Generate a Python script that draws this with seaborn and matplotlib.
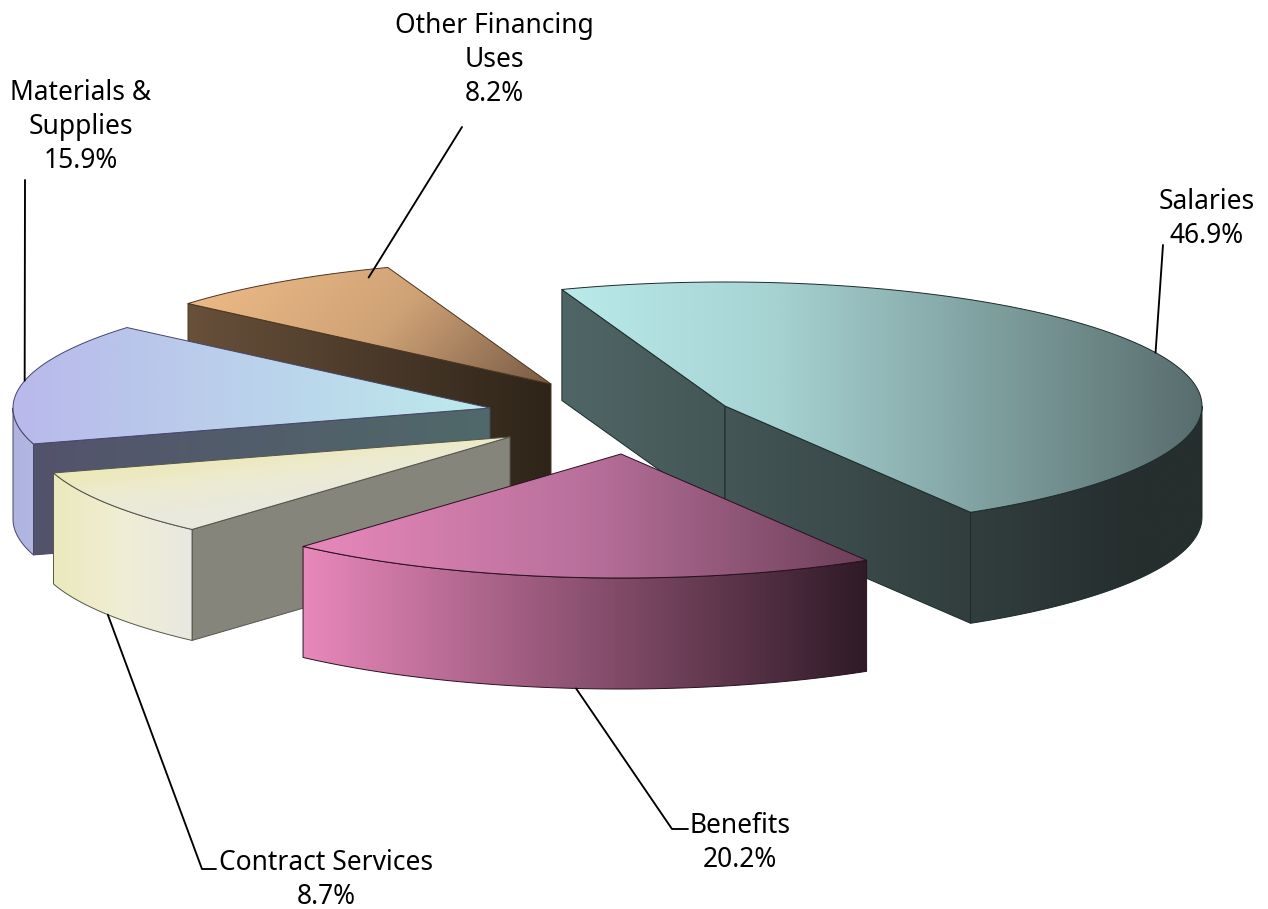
import numpy as np
import matplotlib
matplotlib.use("Agg")
import matplotlib.pyplot as plt
from matplotlib.patches import PathPatch
from matplotlib.path import Path
import seaborn as sns

# Budget shares, in percent
categories = ["Salaries", "Benefits", "Contract Services", "Materials & Supplies", "Other Financing Uses"]
shares = [46.9, 20.2, 8.7, 15.9, 8.2]
label_texts = ["Salaries", "Benefits", "Contract Services", "Materials &\nSupplies", "Other Financing\nUses"]

# Pie geometry in canvas pixels
RX, RY, DEPTH = 477.0, 124.0, 111.0
START_ANGLE = 110.0
apexes = [(725, 406), (621, 454), (510, 437), (490, 408), (551, 384)]
paint_order = [4, 3, 2, 0, 1]

# Colour ramps for the top surface, outer wall and cut faces of each slice
top_colors = [("#baeaea", "#a6d2d2", "#7f9f9f", "#586c6c"), ("#e888bb", "#b8709b", "#6c3f58"),
              ("#ece9bb", "#ecebd2", "#e9e9dd"), ("#b9b9eb", "#bcebeb"), ("#ebb985", "#cfa276", "#775a44")]
wall_colors = [("#506666", "#262e2e"), ("#e888bb", "#2f1a26"), ("#ebe9bd", "#f0eed4", "#e8e8e2"),
               ("#b0b2e0", "#b4c0e4"), ("#000000", "#000000")]
cut_colors = [("#506666", "#262e2e"), ("#000000", "#000000"), ("#85857c", "#85857c"),
              ("#53536c", "#506969"), ("#68503a", "#2e2419")]
edge_colors = ["#1c2a2a", "#2a0f20", "#55554a", "#45456a", "#4a3420"]

# Leader lines: waypoints after the rim anchor, and label positions
leader_paths = [[(1163, 245)], [(672, 829), (688, 829)], [(202, 869), (216, 869)], [(25, 180)], [(462, 127)]]
anchor_overrides = {3: (167.3, 1.0), 4: (114.0, 0.94)}
label_centers = [(1207, 219), (740, 843), (326, 880), (81, 127), (494, 60)]

sns.set_theme(style="white")
plt.rcParams["font.family"] = ["Noto Sans", "DejaVu Sans"]

fig = plt.figure(figsize=(12.68, 9.09), dpi=100)
ax = fig.add_axes([0, 0, 1, 1])


def rim(apex, angle_deg, lift=0.0, radius=1.0):
    t = np.radians(angle_deg)
    return (apex[0] + radius * RX * np.cos(t), apex[1] - radius * RY * np.sin(t) + lift)


def paint(verts, stops, x0, x1, direction=(1.0, 0.0), z=1, y0=None, lw=0.7, edge="#333333"):
    """Fill a polygon with a linear blend of colours along a direction."""
    verts = np.asarray(verts)
    path = Path(np.vstack([verts, verts[0]]), closed=True)
    patch = PathPatch(path, facecolor="none", edgecolor=edge, lw=lw, zorder=z + 0.1, joinstyle="round")
    ax.add_patch(patch)
    lut = np.array(sns.blend_palette(list(stops), 256))
    xmin, ymin = verts.min(axis=0)
    xmax, ymax = verts.max(axis=0)
    X, Y = np.meshgrid(np.linspace(xmin, xmax, 400), np.linspace(ymin, ymax, 300))
    dx, dy = direction
    base_y = ymin if y0 is None else y0
    t = ((X - x0) * dx + (Y - base_y) * dy) / (x1 - x0)
    idx = (np.clip(t, 0, 1) * 255).astype(int)
    img = ax.imshow(lut[idx], extent=(xmin, xmax, ymax, ymin), origin="upper",
                    aspect="auto", zorder=z, interpolation="bilinear")
    img.set_clip_path(patch)


fractions = np.array(shares) / np.sum(shares)
ends = START_ANGLE - np.cumsum(fractions) * 360.0
starts = np.concatenate([[START_ANGLE], ends[:-1]])
mids = (starts + ends) / 2.0

# Every slice is painted back to front: cut faces, outer wall, then the top
z = 2
for i in paint_order:
    apex, a0, a1 = apexes[i], starts[i], ends[i]
    arc_angles = np.linspace(a0, a1, 160)
    arc = np.array([rim(apex, a) for a in arc_angles])
    x_lo, x_hi = arc[:, 0].min(), max(arc[:, 0].max(), apex[0])
    drop = np.array([0.0, DEPTH])

    cut_x = {0: (562, 1130), 2: (0, 1), 3: (34, 490), 4: (189, 551)}.get(i)
    for angle, normal in ((a0, a0 + 90.0), (a1, a1 - 90.0)):
        if np.sin(np.radians(normal)) < 0:
            p = np.array(rim(apex, angle))
            face = [apex, p, p + drop, np.array(apex) + drop]
            paint(face, cut_colors[i], cut_x[0], cut_x[1], z=z, edge=edge_colors[i])
            z += 1

    front = arc_angles[np.sin(np.radians(arc_angles)) < 0]
    if i == 3:
        front = np.linspace(-180.0, a0, 40)
    if i == 0:
        front = np.linspace(0.0, a1, 60)
    if len(front) > 1 and i != 4:
        upper = np.array([rim(apex, a) for a in front])
        wall = np.vstack([upper, (upper + drop)[::-1]])
        wall_x = {0: (562, 1130), 2: (53, 192), 3: (13, 60)}.get(i, (x_lo, x_hi))
        paint(wall, wall_colors[i], wall_x[0], wall_x[1], z=z, edge=edge_colors[i])
        z += 1

    top = np.vstack([apex, arc])
    if i == 4:
        paint(top, top_colors[i], 190, 508, direction=(0.72, 0.69), z=z, y0=300, edge=edge_colors[i])
    elif i == 2:
        paint(top, top_colors[i], 71, 471, direction=(1.0, 8.0), z=z, y0=477, edge=edge_colors[i])
    else:
        paint(top, top_colors[i], x_lo, x_hi, z=z, edge=edge_colors[i])
    z += 1

# Leader lines run from each slice's rim to its label
for i in range(len(shares)):
    if i in anchor_overrides:
        angle, radius = anchor_overrides[i]
        anchor = rim(apexes[i], angle, radius=radius)
    else:
        facing = np.sin(np.radians(mids[i])) < 0
        anchor = rim(apexes[i], mids[i], lift=DEPTH if facing else 0.0)
    pts = np.array([anchor] + leader_paths[i])
    ax.plot(pts[:, 0], pts[:, 1], color="black", lw=1.35, zorder=100, solid_joinstyle="miter")
    ax.text(label_centers[i][0], label_centers[i][1], f"{label_texts[i]}\n{shares[i]:.1f}%",
            ha="center", va="center", ma="center", fontsize=19, color="black",
            linespacing=1.28, zorder=101)

ax.set_xlim(0, 1268)
ax.set_ylim(909, 0)
ax.axis("off")
fig.savefig("out.png", dpi=100, facecolor="white")
